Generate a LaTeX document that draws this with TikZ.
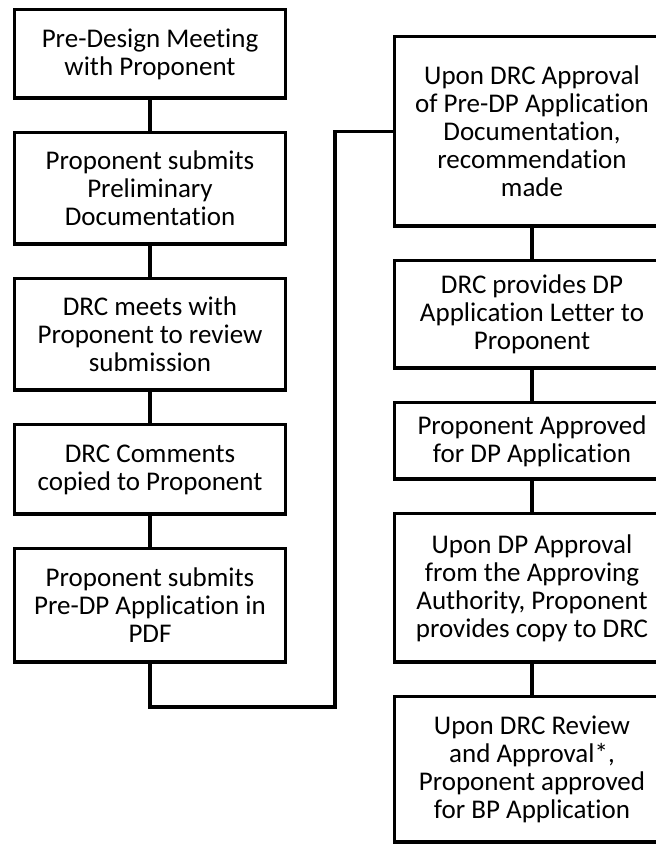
\documentclass[tikz,border=0pt]{standalone}
\usepackage{fontspec}
\setmainfont{Carlito}[Ligatures=NoCommon]
\usetikzlibrary{positioning}

\begin{document}
\begin{tikzpicture}[
  x=1pt, y=1pt,
  node distance=31pt,
  stepbox/.style={rectangle, draw, line width=3.5pt, align=center, inner sep=0pt, font=\fontsize{27}{28}\selectfont},
  leftbox/.style={stepbox, minimum width=271pt},
  rightbox/.style={stepbox, minimum width=275pt},
  link/.style={line width=3.5pt}
]

  \path[use as bounding box, clip] (0,0) rectangle (656,844);

  % Left column
  \node[leftbox, minimum height=88.5pt] (Pre) at (150,790) {Pre-Design Meeting\\with Proponent};
  \node[leftbox, minimum height=111.5pt, below=of Pre] (Prelim) {Proponent submits\\Preliminary\\Documentation};
  \node[leftbox, minimum height=111.5pt, below=of Prelim] (Meet) {DRC meets with\\Proponent to review\\submission};
  \node[leftbox, minimum height=89.5pt, below=of Meet] (Comments) {DRC Comments\\copied to Proponent};
  \node[leftbox, minimum height=113.5pt, below=of Comments] (PreDP) {Proponent submits\\Pre-DP Application in\\PDF};

  % Right column
  \node[rightbox, minimum height=189.5pt] (Recommend) at (532,712.5) {Upon DRC Approval\\of Pre-DP Application\\Documentation,\\recommendation\\made};
  \node[rightbox, minimum height=107.5pt, below=of Recommend] (Letter) {DRC provides DP\\Application Letter to\\Proponent};
  \node[rightbox, minimum height=76.5pt, below=of Letter] (DPApp) {Proponent Approved\\for DP Application};
  \node[rightbox, minimum height=148.5pt, below=of DPApp] (DPOk) {Upon DP Approval\\from the Approving\\Authority, Proponent\\provides copy to DRC};
  \node[rightbox, minimum height=145.5pt, below=of DPOk] (BPApp) {Upon DRC Review\\and Approval*,\\Proponent approved\\for BP Application};

  % Links
  \draw[link] (Pre) -- (Prelim);
  \draw[link] (Prelim) -- (Meet);
  \draw[link] (Meet) -- (Comments);
  \draw[link] (Comments) -- (PreDP);
  \draw[link] (Recommend) -- (Letter);
  \draw[link] (Letter) -- (DPApp);
  \draw[link] (DPApp) -- (DPOk);
  \draw[link] (DPOk) -- (BPApp);

  % Cross-over to right column
  \coordinate (turn) at (335,137);
  \draw[link] (PreDP.south) |- (turn) |- (Recommend.west);

\end{tikzpicture}
\end{document}
